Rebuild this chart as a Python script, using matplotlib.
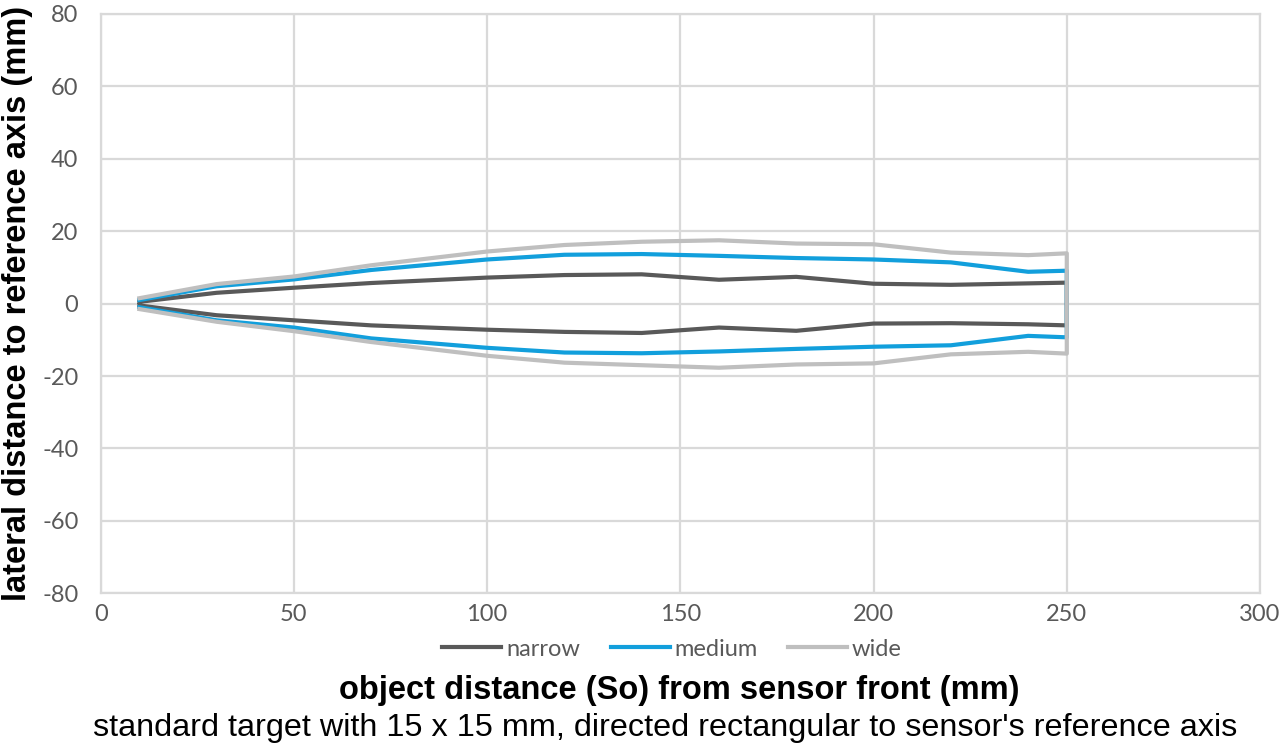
import matplotlib.pyplot as plt

plt.rcParams['axes.unicode_minus'] = False

# object distance (mm) for each measured point
x_pts = [10, 30, 50, 70, 100, 120, 140, 160, 180, 200, 220, 240, 250]

# upper / lower lateral edges (mm) for each detection field
narrow_up = [0.5, 3.0, 4.4, 5.7, 7.2, 7.9, 8.1, 6.6, 7.4, 5.5, 5.2, 5.6, 5.8]
narrow_lo = [-0.5, -3.2, -4.6, -6.0, -7.2, -7.8, -8.1, -6.6, -7.5, -5.5, -5.4, -5.7, -6.0]
medium_up = [1.0, 4.8, 6.7, 9.3, 12.2, 13.5, 13.7, 13.2, 12.6, 12.2, 11.4, 8.8, 9.1]
medium_lo = [-1.0, -4.6, -6.6, -9.6, -12.2, -13.5, -13.7, -13.2, -12.5, -11.9, -11.5, -8.9, -9.3]
wide_up = [1.5, 5.4, 7.5, 10.6, 14.4, 16.2, 17.1, 17.5, 16.6, 16.4, 14.1, 13.4, 13.9]
wide_lo = [-1.5, -5.0, -7.6, -10.6, -14.4, -16.3, -17.0, -17.7, -16.8, -16.5, -14.0, -13.3, -13.8]

names = ['narrow', 'medium', 'wide']
colors = ['#595959', '#129fdc', '#bfbfbf']

fig = plt.figure(figsize=(12.8, 7.51), dpi=100)
ax = fig.add_axes([100.7/1280, 1-593.3/751, (1260-100.7)/1280, (593.3-14)/751])

series = [(narrow_up, narrow_lo), (medium_up, medium_lo), (wide_up, wide_lo)]
for (up, lo), name, c in zip(series, names, colors):
    # go out along the upper edge, come back along the lower edge
    xs = x_pts + x_pts[::-1]
    ys = up + lo[::-1]
    ax.plot(xs, ys, color=c, lw=3.0, label=name, solid_joinstyle='round')

ax.set_xlim(0, 300)
ax.set_ylim(-80, 80)
ax.set_xticks(range(0, 301, 50))
ax.set_yticks(range(-80, 81, 20))
ax.grid(True, color='#d9d9d9', lw=1.6)
ax.set_axisbelow(True)
for s in ax.spines.values():
    s.set_color('#d9d9d9')
    s.set_linewidth(1.6)
ax.tick_params(length=0, labelsize=17, labelcolor='#595959', pad=8)
ax.tick_params(axis='y', pad=16)
for lab in ax.get_xticklabels() + ax.get_yticklabels():
    lab.set_family('Lato')

leg = fig.legend(loc='center', bbox_to_anchor=(672/1280, 1-649/751), ncol=3,
                 frameon=False, handlelength=2.5, handletextpad=0.2, columnspacing=1.3,
                 prop={'family': 'Lato', 'size': 17})
for t in leg.get_texts():
    t.set_color('#595959')

fig.text(679/1280, 1-690/751, 'object distance (So) from sensor front (mm)',
         ha='center', va='center', fontsize=23.5, fontweight='bold', family='Liberation Sans')
fig.text(665/1280, 1-728/751,
         "standard target with 15 x 15 mm, directed rectangular to sensor's reference axis",
         ha='center', va='center', fontsize=23.3, family='Liberation Sans')
fig.text(18/1280, 1-303/751, 'lateral distance to reference axis (mm)', rotation=90,
         ha='center', va='center', fontsize=23.5, fontweight='bold', family='Liberation Sans')

fig.savefig('out.png', dpi=100)
